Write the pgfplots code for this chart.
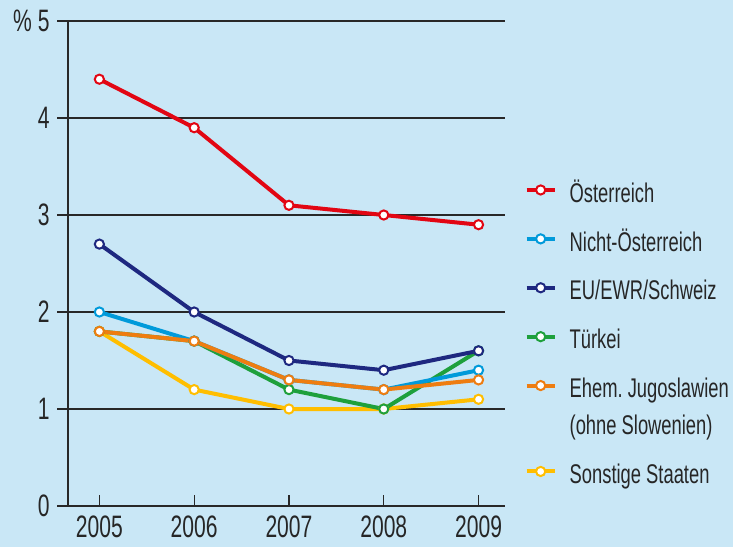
\documentclass[border=0pt]{standalone}
\usepackage{fontspec}
\setmainfont{Liberation Sans}[FakeStretch=0.68]
\usepackage{pgfplots}
\usepackage{pgfplotstable}
\pgfplotsset{compat=1.18}

\definecolor{bg}{RGB}{201,231,246}
\definecolor{cR}{RGB}{226,6,19}
\definecolor{cB}{RGB}{0,154,218}
\definecolor{cN}{RGB}{30,40,128}
\definecolor{cG}{RGB}{30,160,60}
\definecolor{cO}{RGB}{238,125,17}
\definecolor{cY}{RGB}{255,190,0}
\definecolor{gridc}{RGB}{40,40,40}

% Anteile in %, 2005-2009
\pgfplotstableread{
year aut nonaut eu tur yug oth
2005 4.4 2.0 2.7 1.8 1.8 1.8
2006 3.9 1.7 2.0 1.7 1.7 1.2
2007 3.1 1.3 1.5 1.2 1.3 1.0
2008 3.0 1.2 1.4 1.0 1.2 1.0
2009 2.9 1.4 1.6 1.6 1.3 1.1
}\rates

\begin{document}
\begin{tikzpicture}
\fill[bg] (0,0) rectangle (733pt,547pt);
\useasboundingbox (0,0) rectangle (733pt,547pt);
\begin{axis}[
    at={(68pt,41pt)}, anchor=south west,
    scale only axis, width=437pt, height=485pt,
    xmin=2004.669, xmax=2009.279, ymin=0, ymax=5,
    axis x line*=bottom, axis y line*=left,
    axis line style={gridc, line width=1.2pt},
    xtick={2005,2006,2007,2008,2009},
    xticklabels={2005,2006,2007,2008,2009},
    ytick={0,1,2,3,4,5},
    yticklabels={0,1,2,3,4,{\% 5}},
    ymajorgrids,
    major grid style={gridc, line width=1.2pt},
    tick align=outside, major tick length=11pt,
    tick style={gridc, line width=1.2pt},
    xtick style={yshift=11pt},
    tick label style={font=\fontsize{31}{37}\selectfont, text=black!85},
    xticklabel style={yshift=5pt},
    yticklabel style={xshift=-4pt},
    /pgf/number format/assume math mode=true,
    legend style={draw=none, fill=none, at={(axis description cs:1.045,0.684)},
        anchor=north west, inner sep=0pt, outer sep=0pt, row sep=17.5pt,
        font=\fontsize{27}{37}\selectfont, text=black!85,
        cells={anchor=west, align=left, inner sep=0pt},
        /tikz/every odd column/.append style={column sep=11pt}},
    legend cell align=left,
    legend image code/.code={\draw[mark repeat=2, mark phase=2]
        plot coordinates {(0pt,0pt)(14pt,0pt)(28pt,0pt)};},
    ser/.style={line width=4pt, mark=*, mark size=4.6pt,
        mark options={fill=white, line width=2pt}},
]
\addlegendimage{ser, cR}
\addlegendentry{\strut Österreich}
\addlegendimage{ser, cB}
\addlegendentry{\strut Nicht-Österreich}
\addlegendimage{ser, cN}
\addlegendentry{\strut EU/EWR/Schweiz}
\addlegendimage{ser, cG}
\addlegendentry{\strut Türkei}
\addlegendimage{ser, cO, yshift=18.5pt}
\addlegendentry{\strut Ehem.\ Jugoslawien\\\strut(ohne Slowenien)}
\addlegendimage{ser, cY}
\addlegendentry{\strut Sonstige Staaten}

\addplot[ser, cY, forget plot] table[x=year, y=oth] {\rates};
\addplot[ser, cG, forget plot] table[x=year, y=tur] {\rates};
\addplot[ser, cB, forget plot] table[x=year, y=nonaut] {\rates};
\addplot[ser, cO, forget plot] table[x=year, y=yug] {\rates};
\addplot[ser, cN, forget plot] table[x=year, y=eu] {\rates};
\addplot[ser, cR, forget plot] table[x=year, y=aut] {\rates};
\end{axis}
\end{tikzpicture}
\end{document}
